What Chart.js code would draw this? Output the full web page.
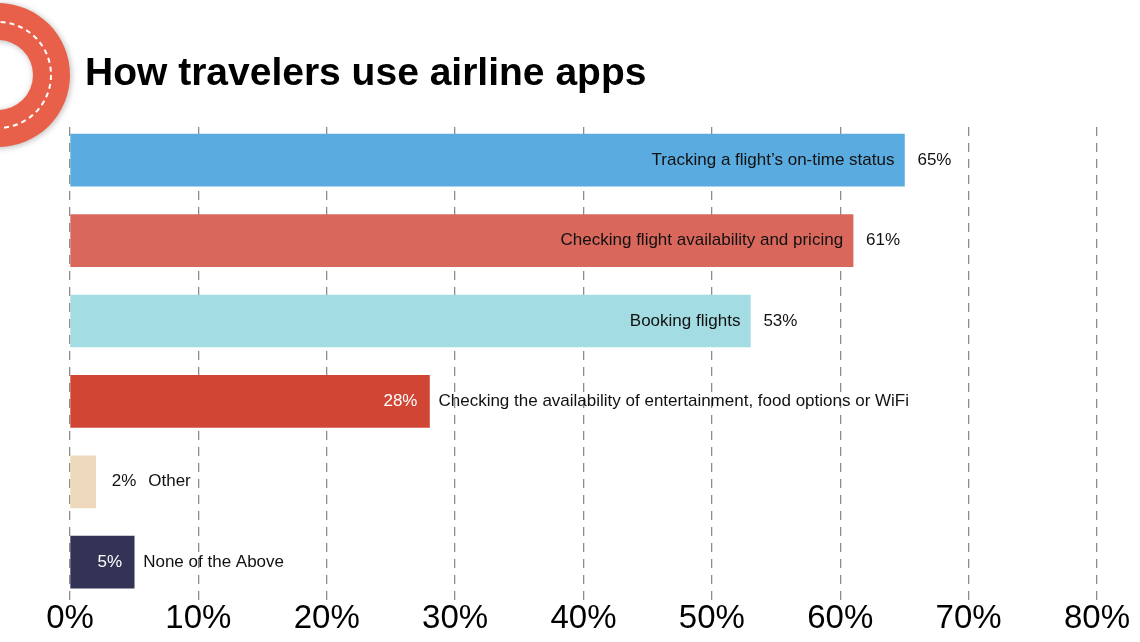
<!DOCTYPE html>
<html>
<head>
<meta charset="utf-8">
<script src="https://cdn.jsdelivr.net/npm/chart.js@4.4.1/dist/chart.umd.min.js"></script>
<style>
  html, body { margin: 0; padding: 0; background: #ffffff; }
  #wrap { width: 1140px; height: 642px; position: relative; }
</style>
</head>
<body>
<div id="wrap"><canvas id="c" width="1140" height="642"></canvas></div>
<script>
const titleText = "How travelers use airline apps";
const categories = [
  "Tracking a flight\u2019s on-time status",
  "Checking flight availability and pricing",
  "Booking flights",
  "Checking the availability of entertainment, food options or WiFi",
  "Other",
  "None of the Above"
];
const values = [65, 61, 53, 28, 2, 5];
const tickValues = [0, 10, 20, 30, 40, 50, 60, 70, 80];
const barColors = ["#5aabe0", "#d9675c", "#a3dde3", "#d04533", "#efd9bc", "#333355"];

const FONT = '"Liberation Sans", Arial, Helvetica, sans-serif';
const LABEL_FONT = '17px ' + FONT;

const decorPlugin = {
  id: 'decor',
  beforeDraw(chart) {
    const ctx = chart.ctx;
    ctx.save();
    ctx.shadowColor = 'rgba(0,0,0,0.28)';
    ctx.shadowBlur = 6;
    ctx.shadowOffsetX = 1;
    ctx.shadowOffsetY = 1;
    ctx.beginPath();
    ctx.arc(-2, 75, 72, 0, Math.PI * 2);
    ctx.arc(-2, 75, 35, 0, Math.PI * 2, true);
    ctx.fillStyle = '#e9604a';
    ctx.fill();
    ctx.shadowColor = 'transparent';
    ctx.beginPath();
    ctx.setLineDash([5, 4]);
    ctx.lineWidth = 2;
    ctx.strokeStyle = '#ffffff';
    ctx.arc(-2, 75, 53, 0, Math.PI * 2);
    ctx.stroke();
    ctx.setLineDash([]);
    ctx.fillStyle = '#000000';
    ctx.font = 'bold 39px ' + FONT;
    ctx.textBaseline = 'alphabetic';
    ctx.textAlign = 'left';
    ctx.fillText(titleText, 85, 85);
    ctx.restore();
  },
  afterDatasetsDraw(chart) {
    const ctx = chart.ctx;
    const meta = chart.getDatasetMeta(0);
    const xs = chart.scales.x;
    ctx.save();
    ctx.font = LABEL_FONT;
    ctx.textBaseline = 'middle';
    meta.data.forEach((bar, i) => {
      const label = categories[i];
      const valText = values[i] + '%';
      const x0 = xs.getPixelForValue(0);
      const x1 = bar.x;
      const y = bar.y;
      const w = x1 - x0;
      const lw = ctx.measureText(label).width;
      const vw = ctx.measureText(valText).width;
      if (lw + 20 < w) {
        ctx.fillStyle = '#111111';
        ctx.textAlign = 'right';
        ctx.fillText(label, x1 - 10, y);
        ctx.textAlign = 'left';
        ctx.fillText(valText, x1 + 13, y);
      } else if (vw + 24 < w) {
        ctx.fillStyle = '#ffffff';
        ctx.textAlign = 'right';
        ctx.fillText(valText, x1 - 12, y);
        ctx.fillStyle = '#111111';
        ctx.textAlign = 'left';
        ctx.fillText(label, x1 + 9, y);
      } else {
        ctx.fillStyle = '#111111';
        ctx.textAlign = 'left';
        ctx.fillText(valText, x1 + 16, y);
        ctx.fillText(label, x1 + 16 + vw + 12, y);
      }
    });
    ctx.restore();
  }
};

new Chart(document.getElementById('c'), {
  type: 'bar',
  data: {
    labels: categories,
    datasets: [{
      data: values,
      backgroundColor: barColors,
      borderWidth: 0,
      barThickness: 52
    }]
  },
  options: {
    indexAxis: 'y',
    responsive: false,
    animation: false,
    devicePixelRatio: 1,
    layout: { padding: { left: 70, right: 43, top: 120, bottom: 6 } },
    plugins: {
      legend: { display: false },
      tooltip: { enabled: false },
      title: { display: false }
    },
    scales: {
      x: {
        type: 'linear',
        min: 0,
        max: 80,
        afterBuildTicks(scale) { scale.ticks = tickValues.map(v => ({ value: v })); },
        ticks: {
          callback: v => v + '%',
          color: '#000000',
          padding: -3,
          font: { family: FONT, size: 33 },
          maxRotation: 0,
          autoSkip: false
        },
        grid: {
          color: '#8c8c8c',
          lineWidth: 1.3,
          drawTicks: false
        },
        border: { display: false, dash: [9, 7], dashOffset: 9 }
      },
      y: {
        display: false
      }
    }
  },
  plugins: [decorPlugin]
});
</script>
</body>
</html>
